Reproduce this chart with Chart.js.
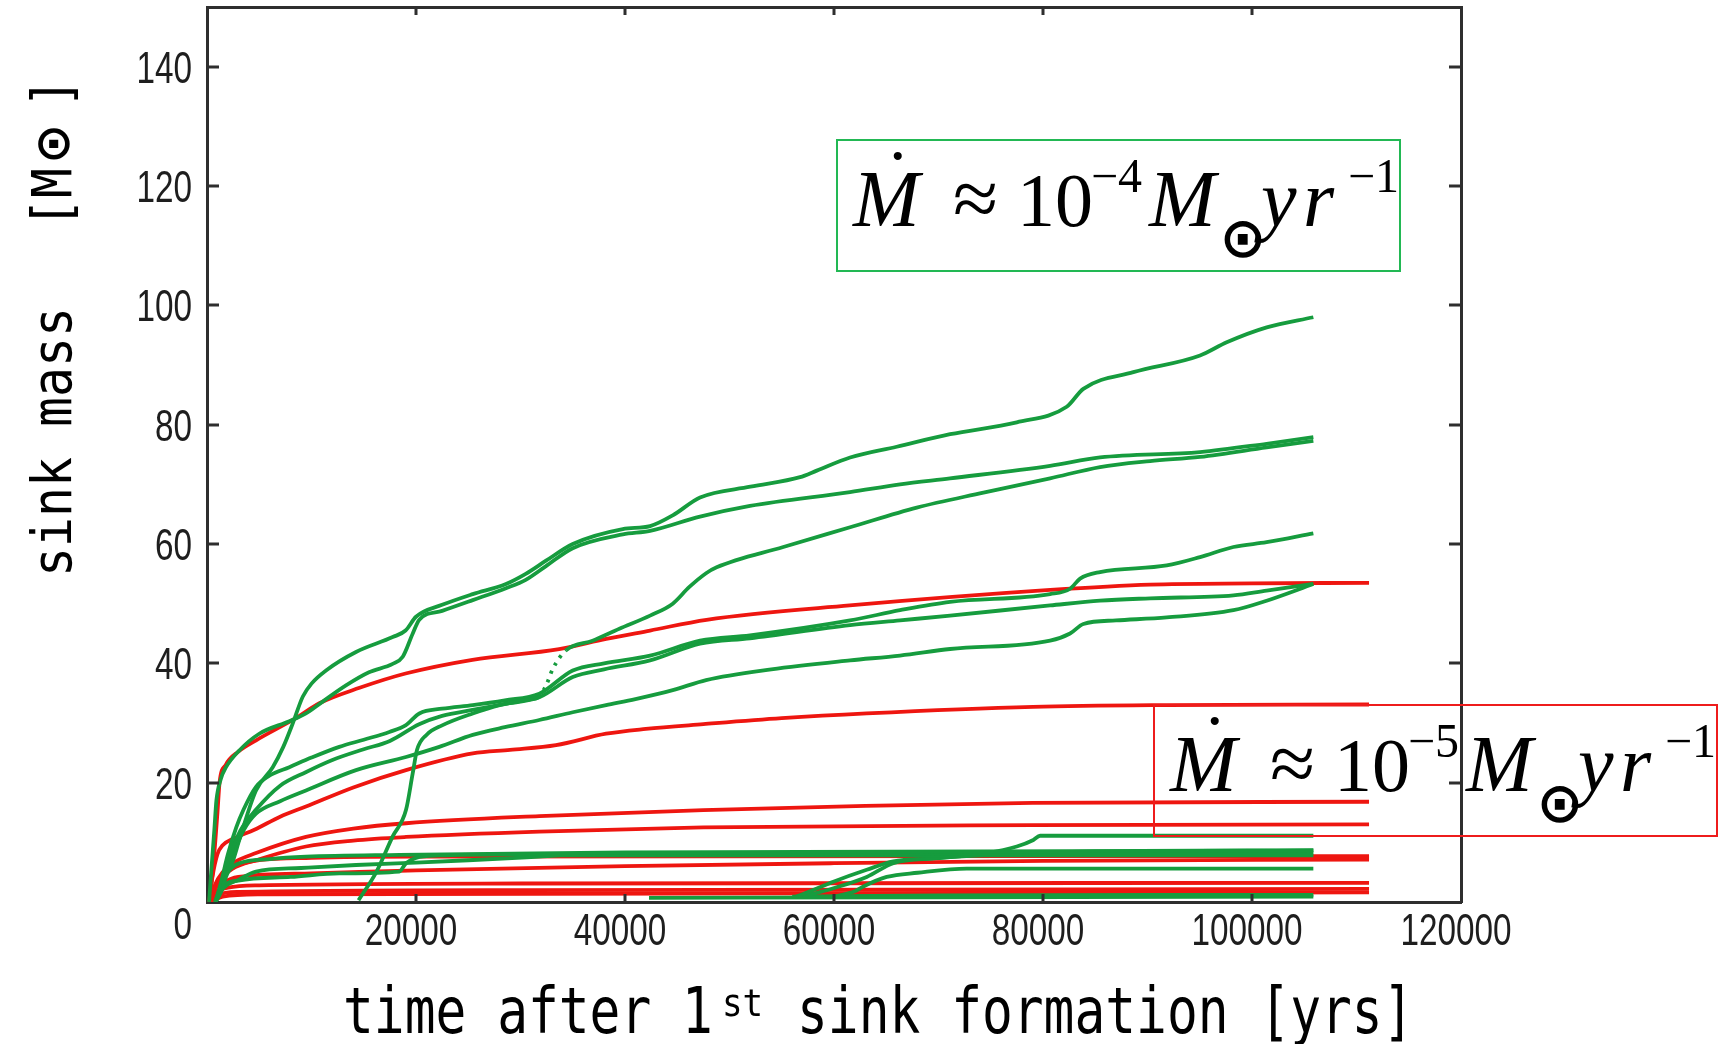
<!DOCTYPE html>
<html>
<head>
<meta charset="utf-8">
<title>sink mass vs time</title>
<script src="https://cdn.jsdelivr.net/npm/chart.js@4.4.1/dist/chart.umd.min.js"></script>
<style>
  html, body { margin: 0; padding: 0; background: #fff; }
  #wrap { width: 1723px; height: 1044px; }
</style>
</head>
<body>
<div id="wrap"><canvas id="massChart" width="1723" height="1044"></canvas></div>
<script>
/* ── axes ── */
const xTicks = [0, 20000, 40000, 60000, 80000, 100000, 120000];
const yTicks = [0, 20, 40, 60, 80, 100, 120, 140];

/* ── green tracks: Mdot ~ 1e-4 run  [years, Msun] ── */
const g1 = [[800,0],[1300,1.5],[1820,4.2],[2500,7],[3090,10.4],[4690,18.7],[6290,22.6],[7300,26],[8200,29.9],[9160,34.4],[10000,36.6],[11390,38.8],[14260,41.9],[17770,44.4],[19000,45.5],[20000,47.8],[22500,49.8],[25430,51.6],[28610,53.3],[30500,55],[32440,57.2],[35000,60],[39790,62.5],[42400,63],[44570,64.8],[47180,67.8],[52000,69.6],[56750,71.2],[58350,72.3],[61540,74.5],[66000,76.3],[71110,78.4],[77490,80.4],[82270,83],[83860,86],[88650,88.8],[95030,91.6],[97580,93.8],[101410,96.3],[105870,98]];
const g2 = [[200,0],[400,5],[700,12],[900,17],[1300,20.5],[1820,22.6],[3090,25.4],[5000,28.2],[7880,30.3],[9470,31.6],[11000,33.5],[13300,36.3],[15500,38.5],[17770,39.9],[18730,41.1],[19690,45],[20320,47.3],[22500,48.8],[25430,50.6],[28610,52.6],[30500,54],[32440,56.3],[35000,59.3],[39790,61.6],[42400,62.2],[47180,64.6],[51960,66.4],[61530,68.7],[66320,70],[71100,71],[80680,73.1],[85460,74.5],[95030,75.4],[101400,76.8],[105870,77.9]];
const g3 = [[14500,0.3],[16200,5],[17770,11],[19040,15.4],[19680,21.5],[20100,25.5],[21000,28],[22500,29.6],[25430,31.6],[28000,33],[31000,34],[31700,34.3],[32500,36.5],[33070,39],[34360,42.2],[36900,43.8],[39460,45.8],[42400,48],[44570,50],[46160,52.8],[47760,55.1],[48770,56.1],[55150,59.5],[61540,62.8],[67920,66.1],[74300,68.6],[80680,71],[85460,72.9],[90250,73.9],[95030,74.6],[101410,76.2],[105870,77.3]];
const g4 = [[800,0],[1300,3],[2000,8],[2800,12.5],[3500,15.5],[4690,19.3],[6000,21.2],[7880,22.6],[10000,24.2],[12660,26],[15000,27.2],[17450,28.5],[19000,29.6],[20320,31.6],[22500,32.4],[25430,33],[28500,33.8],[31800,34.9],[35000,38.8],[38000,40],[42400,41.3],[47180,43.8],[51960,44.7],[61540,47.2],[66320,48.9],[71110,50.3],[80680,51.6],[82590,52.5],[83550,54.2],[85460,55.3],[91840,56.4],[95030,57.8],[98220,59.5],[101400,60.3],[105870,61.8]];
const g5 = [[800,0],[1400,3],[2200,8],[3200,12],[4700,15.5],[7000,19.5],[9500,21.8],[12000,23.8],[15000,25.6],[17500,27],[20300,29.8],[22500,31.2],[25400,32.2],[28500,33.2],[31800,34.3],[35000,37.7],[38000,39],[42400,40.5],[47180,43.3],[51960,44.2],[61540,46.4],[66320,47.2],[71110,48],[80680,49.7],[85460,50.5],[90250,50.9],[98220,51.4],[101400,52.2],[105870,53.3]];
const g6 = [[800,0],[1500,3],[2500,8],[3500,12],[4690,14.8],[7000,16.9],[9470,18.7],[14260,22.1],[19040,24.3],[22230,26],[25430,28],[28500,29.3],[31800,30.5],[35000,31.8],[38190,33],[41000,34],[44570,35.5],[47760,37.2],[54000,39],[61540,40.5],[66320,41.3],[71110,42.4],[80680,43.8],[82590,45],[83860,46.6],[86990,47.2],[91840,47.7],[98220,48.9],[101400,50.5],[105870,53.3]];
const gLow1 = [[800,0],[1500,3.5],[2200,5.5],[3090,6.5],[6000,7.2],[9470,7.6],[18400,7.9],[40000,8.3],[105870,8.6]];
const gLow2 = [[800,0],[1500,2.5],[3000,3.6],[8000,4.2],[12660,4.8],[18400,5.1],[19040,6.5],[20000,7.4],[22230,7.8],[30000,8],[105870,8.2]];
const gLow3 = [[800,0],[1500,2.2],[3090,3.8],[4690,5.1],[9000,5.7],[14260,6.2],[20000,6.6],[25000,7],[31800,7.6],[34000,7.8],[105870,7.8]];
const gLate1 = [[56400,0.9],[58000,2],[59940,3.4],[63130,5.4],[65680,6.8],[69510,7.3],[74620,8.2],[77490,9.3],[79080,10.4],[79720,11.1],[105870,11.1]];
const gLate2 = [[57000,0.9],[59940,2.3],[63130,4.2],[65680,6.5],[69510,7.3],[75890,8],[85000,8.5],[105870,8.7]];
const gLate3 = [[60000,0.9],[62000,1.8],[62810,2.6],[65040,4.2],[68000,4.9],[72700,5.6],[105870,5.6]];
const gFlat1 = [[42300,0.7],[70000,0.8],[105870,0.9]];
const gFlat2 = [[56000,0.9],[70000,1.1],[105870,1.2]];

/* ── red tracks: Mdot ~ 1e-5 run ── */
const r1 = [[300,1],[600,6],[1000,15],[1200,20],[1800,23],[3000,25.2],[4700,27.1],[8500,30.8],[10750,33.3],[14600,35.9],[19000,38.3],[25400,40.6],[33700,42.4],[38200,44.1],[42400,45.5],[47800,47.3],[61500,49.7],[80700,52.3],[90250,53.2],[100000,53.4],[111200,53.5]];
const r2 = [[200,0],[500,4],[1000,8],[1500,9.5],[2500,10.6],[4530,12.1],[7000,14.3],[9470,16],[14000,19.2],[19040,22.1],[25430,24.9],[29000,25.5],[33400,26.3],[38190,28.2],[42000,29],[47500,29.8],[55000,30.8],[63130,31.6],[79050,32.7],[91840,33],[111200,33.1]];
const r3 = [[300,0],[800,3],[1500,5],[2460,6.5],[4690,8.2],[9470,10.9],[14000,12.3],[19040,13.2],[31800,14.4],[47500,15.4],[63000,16.1],[79000,16.6],[111200,16.8]];
const r4 = [[300,0],[800,2.5],[1500,4.2],[2460,5.6],[4690,7],[9470,9.3],[14000,10.3],[19040,10.9],[31800,11.8],[47500,12.5],[79000,12.9],[111200,13]];
const r5 = [[300,0],[700,2.5],[1500,4.5],[3000,6.2],[5000,7],[10000,7.4],[20000,7.6],[111200,7.7]];
const r6 = [[300,0],[700,2],[1500,3.2],[3000,4.2],[10000,4.8],[20000,5.3],[40000,6],[60000,6.5],[80000,6.9],[111200,7.1]];
const r7 = [[300,0],[800,1.5],[2000,2.4],[5000,2.8],[30000,3.1],[111200,3.2]];
const r8 = [[300,0],[1000,1.2],[3000,1.7],[30000,2],[111200,2.2]];
const r9 = [[400,0],[1500,0.9],[5000,1.3],[111200,1.6]];

const greenTracks = [g1, g2, g3, g4, g5, g6, gLow1, gLow2, gLow3, gLate1, gLate2, gLate3, gFlat1, gFlat2];
const redTracks = [r1, r2, r3, r4, r5, r6, r7, r8, r9];

const RED = 'rgb(238,22,16)';
const GREEN = 'rgb(22,156,62)';

function track(arr, color) {
    return {
        data: arr.map(([x, y]) => ({ x, y })),
        borderColor: color,
        borderWidth: 3.8,
        pointRadius: 0,
        showLine: true,
        fill: false,
        cubicInterpolationMode: 'monotone'
    };
}

// greens first so they sit on top of the reds
const datasets = greenTracks.map(t => track(t, GREEN)).concat(redTracks.map(t => track(t, RED)));
// the sparse (dotted) stretch of the third green track
datasets[2].segment = {
    borderDash: c => (c.p0.parsed.x >= 31700 && c.p1.parsed.x <= 34400) ? [3, 6] : undefined
};

function axisOpts(axis, position, min, max, ticks) {
    return {
        type: 'linear', axis, position, min, max,
        afterBuildTicks: s => { s.ticks = ticks.map(v => ({ value: v })); },
        ticks: { display: false },
        grid: { display: false, drawTicks: false },
        border: { display: true, color: '#2e2e2e', width: 3 }
    };
}

/* ── text helpers ── */
function squeezed(ctx, txt, x, y, sx, align) {
    ctx.save();
    ctx.translate(x, y);
    ctx.scale(sx, 1);
    ctx.textAlign = align || 'left';
    ctx.fillText(txt, 0, 0);
    ctx.restore();
}

function rateLabel(ctx, bx, by, exp, boxColor) {
    const it = 'italic 80px "Liberation Serif", "Times New Roman", serif';
    const rm = '76px "Liberation Serif", "Times New Roman", serif';
    const sm = '48px "Liberation Serif", "Times New Roman", serif';
    const base = by + 86, sup = by + 52;
    ctx.save();
    ctx.strokeStyle = boxColor;
    ctx.lineWidth = 2;
    ctx.strokeRect(bx, by, 563, 131);
    ctx.fillStyle = '#000';
    ctx.textAlign = 'left';
    ctx.textBaseline = 'alphabetic';
    ctx.font = it;  ctx.fillText('M', bx + 16, base);
    ctx.font = rm;  ctx.fillText('˙', bx + 48, by + 62);
    ctx.font = '82px "Liberation Serif", serif';
    ctx.fillText('≈', bx + 116, base);
    ctx.font = rm;  ctx.fillText('10', bx + 180, base);
    ctx.font = sm;  ctx.fillText('−' + exp, bx + 254, sup);
    ctx.font = it;  ctx.fillText('M', bx + 312, base);
    ctx.fillText('y', bx + 424, base);
    ctx.fillText('r', bx + 466, base);
    ctx.font = sm;  ctx.fillText('−1', bx + 511, sup);
    ctx.font = 'bold 56px "DejaVu Sans", sans-serif';
    ctx.textAlign = 'center';
    ctx.textBaseline = 'middle';
    ctx.fillText('⊙', bx + 406, by + 102);
    ctx.restore();
}

const decor = {
    id: 'decor',
    afterDraw(chart) {
        const ctx = chart.ctx;
        const xs = chart.scales.x, ys = chart.scales.y;
        const { left, right, top, bottom } = chart.chartArea;
        ctx.save();

        // inward tick marks, mirrored
        ctx.strokeStyle = '#2e2e2e';
        ctx.lineWidth = 3;
        ctx.beginPath();
        yTicks.slice(1).forEach(v => {
            const py = Math.round(ys.getPixelForValue(v));
            ctx.moveTo(left, py);  ctx.lineTo(left + 12, py);
            ctx.moveTo(right, py); ctx.lineTo(right - 12, py);
        });
        xTicks.slice(1, -1).forEach(v => {
            const px = Math.round(xs.getPixelForValue(v));
            ctx.moveTo(px, bottom); ctx.lineTo(px, bottom - 8);
            ctx.moveTo(px, top);    ctx.lineTo(px, top + 8);
        });
        ctx.stroke();

        // tick labels (narrow sans)
        ctx.fillStyle = '#1e1e1e';
        ctx.textBaseline = 'alphabetic';
        ctx.font = '45px "Liberation Sans", Arial, sans-serif';
        yTicks.slice(1).forEach(v => squeezed(ctx, String(v), left - 15, ys.getPixelForValue(v) + 16, 0.74, 'right'));
        squeezed(ctx, '0', left - 15, bottom + 37, 0.74, 'right');
        xTicks.slice(1).forEach(v => squeezed(ctx, String(v), xs.getPixelForValue(v) - 5, bottom + 43, 0.74, 'center'));

        // x title
        ctx.fillStyle = '#000';
        ctx.font = '64px "DejaVu Sans Mono", monospace';
        squeezed(ctx, 'time after 1', 343, 1033, 0.8);
        ctx.font = '38px "DejaVu Sans Mono", monospace';
        squeezed(ctx, 'st', 722, 1016, 0.9);
        ctx.font = '64px "DejaVu Sans Mono", monospace';
        squeezed(ctx, 'sink formation [yrs]', 797, 1033, 0.8);

        // y title (rotated)
        ctx.font = '56px "DejaVu Sans Mono", monospace';
        ctx.save();
        ctx.translate(71, 577);
        ctx.rotate(-Math.PI / 2);
        squeezed(ctx, 'sink mass', 0, 0, 0.89);
        squeezed(ctx, '[M', 577 - 228, 0, 0.89);
        squeezed(ctx, ']', 577 - 108, 0, 0.89);
        ctx.font = 'bold 48px "DejaVu Sans", sans-serif';
        ctx.textAlign = 'center';
        ctx.textBaseline = 'middle';
        ctx.fillText('⊙', 577 - 144, -14);
        ctx.restore();

        // accretion-rate labels
        rateLabel(ctx, 837, 140, '4', 'rgb(34,184,84)');
        rateLabel(ctx, 1154, 705, '5', 'rgb(238,28,28)');

        ctx.restore();
    }
};

new Chart(document.getElementById('massChart'), {
    type: 'scatter',
    data: { datasets },
    options: {
        responsive: false,
        animation: false,
        layout: { padding: { left: 207, top: 7, right: 262, bottom: 142 } },
        plugins: { legend: { display: false }, tooltip: { enabled: false } },
        scales: {
            x: axisOpts('x', 'bottom', 0, 120000, xTicks),
            y: axisOpts('y', 'left', 0, 150, yTicks),
            x2: axisOpts('x', 'top', 0, 120000, xTicks),
            y2: axisOpts('y', 'right', 0, 150, yTicks)
        }
    },
    plugins: [decor]
});
</script>
</body>
</html>
